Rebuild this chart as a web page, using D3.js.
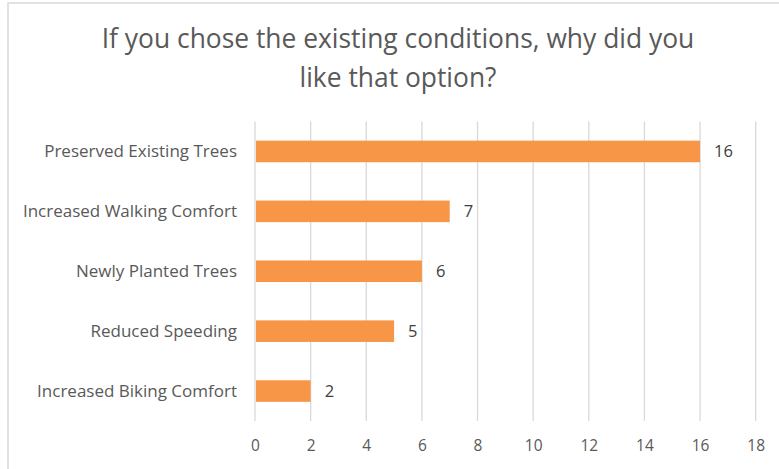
<!DOCTYPE html>
<html>
<head>
<meta charset="utf-8">
<script src="https://cdn.jsdelivr.net/npm/d3@7"></script>
<style>
  html, body { margin: 0; padding: 0; background: #fff; }
  svg { display: block; }
</style>
</head>
<body>
<div id="chart"></div>
<script>
// Survey responses: reasons for preferring the existing conditions
const categories = [
  "Preserved Existing Trees",
  "Increased Walking Comfort",
  "Newly Planted Trees",
  "Reduced Speeding",
  "Increased Biking Comfort"
];
const counts = [16, 7, 6, 5, 2];
const xTicks = [0, 2, 4, 6, 8, 10, 12, 14, 16, 18];
const titleLines = [
  "If you chose the existing conditions, why did you",
  "like that option?"
];

const W = 779, H = 469;
const font = "'Open Sans', sans-serif";
const textColor = "#595959";
const gridColor = "#d9d9d9";
const barColor = "#F79646";

const svg = d3.select("#chart").append("svg")
  .attr("width", W).attr("height", H);

// chart frame (left and top edges visible)
svg.append("path")
  .attr("d", `M8,${H} L8,3 L${W},3`)
  .attr("fill", "none")
  .attr("stroke", gridColor)
  .attr("stroke-width", 1.5);

// title
svg.append("g").selectAll("text")
  .data(titleLines)
  .join("text")
  .attr("x", 398)
  .attr("y", (d, i) => 48 + i * 39)
  .attr("text-anchor", "middle")
  .attr("font-family", font)
  .attr("font-size", 26.4)
  .attr("fill", textColor)
  .text(d => d);

const plot = { left: 255, right: 755.7, top: 121.5, bottom: 421 };

const x = d3.scaleLinear()
  .domain([0, 18])
  .range([plot.left, plot.right]);

const y = d3.scaleBand()
  .domain(categories)
  .range([plot.top, plot.bottom])
  .paddingInner(0.64)
  .paddingOuter(0.32);

// vertical gridlines
svg.append("g").selectAll("line")
  .data(xTicks)
  .join("line")
  .attr("x1", d => x(d)).attr("x2", d => x(d))
  .attr("y1", plot.top).attr("y2", plot.bottom)
  .attr("stroke", gridColor)
  .attr("stroke-width", 1.3);

// x axis tick labels
const xAxis = d3.axisBottom(x)
  .tickValues(xTicks)
  .tickSize(0)
  .tickPadding(0)
  .tickFormat(d3.format("d"));

const gx = svg.append("g")
  .attr("transform", `translate(0,${plot.bottom + 19})`)
  .call(xAxis);
gx.select(".domain").remove();
gx.selectAll("text")
  .attr("font-family", font)
  .attr("font-size", 15.5)
  .attr("fill", textColor);

// category labels
const yAxis = d3.axisLeft(y).tickSize(0).tickPadding(18);
const gy = svg.append("g")
  .attr("transform", `translate(${plot.left},0)`)
  .call(yAxis);
gy.select(".domain").remove();
gy.selectAll("text")
  .attr("font-family", font)
  .attr("font-size", 17)
  .attr("fill", textColor);

// bars
const rows = categories.map((c, i) => ({ cat: c, value: counts[i] }));

svg.append("g").selectAll("rect")
  .data(rows)
  .join("rect")
  .attr("x", x(0) + 1)
  .attr("y", d => y(d.cat))
  .attr("width", d => x(d.value) - x(0) - 1)
  .attr("height", y.bandwidth())
  .attr("fill", barColor);

// value labels
svg.append("g").selectAll("text")
  .data(rows)
  .join("text")
  .attr("x", d => x(d.value) + 14)
  .attr("y", d => y(d.cat) + y.bandwidth() / 2)
  .attr("dy", "0.35em")
  .attr("font-family", font)
  .attr("font-size", 16.5)
  .attr("fill", "#404040")
  .text(d => d.value);
</script>
</body>
</html>
